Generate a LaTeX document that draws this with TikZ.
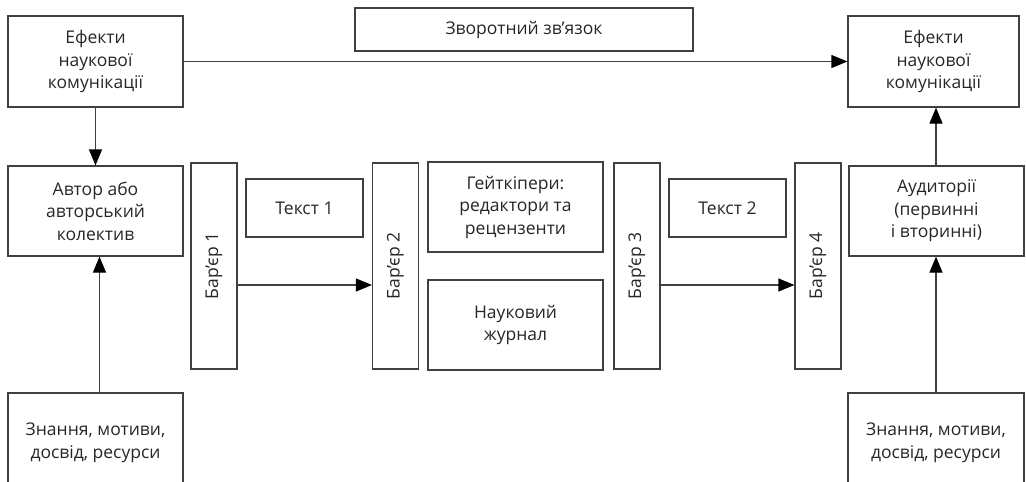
\documentclass[tikz,border=0pt]{standalone}
\usepackage{fontspec}
\setmainfont{Open Sans}
\usetikzlibrary{arrows.meta}

\begin{document}
\begin{tikzpicture}[x=1pt,y=-1pt,
    every node/.style={font=\fontsize{17.5}{22.5}\selectfont, text=black!85},
    box/.style={draw=black!75, line width=1.2pt, align=center, inner sep=0pt},
    barrier/.style={box, minimum width=46pt, minimum height=206pt},
    link/.style={draw=black!75, line width=1.2pt, -{Triangle[length=16pt,width=13pt,color=black]}},
  ]
  \clip (0,0) rectangle (1026,482);
  % top row
  \draw (95.5,61.5) node[box, minimum width=175pt, minimum height=91pt](eff1) {Ефекти\\наукової\\комунікації};
  \draw (524,29.5) node[box, minimum width=338pt, minimum height=43pt](fb) {Зворотний зв’язок};
  \draw (933.5,61.5) node[box, minimum width=171pt, minimum height=91pt](eff2) {Ефекти\\наукової\\комунікації};
  % middle row
  \draw (95.5,211) node[box, minimum width=175pt, minimum height=90pt](author) {Автор або\\авторський\\колектив};
  \draw (214,266) node[barrier, label={[rotate=90]center:Бар’єр 1}](bar1) {};
  \draw (304.5,208) node[box, minimum width=117pt, minimum height=58pt](text1) {Текст 1};
  \draw (395.5,266) node[barrier, label={[rotate=90]center:Бар’єр 2}](bar2) {};
  \draw (515.5,207) node[box, minimum width=175pt, minimum height=90pt](gate) {Гейткіпери:\\редактори та\\рецензенти};
  \draw (515.5,325) node[box, minimum width=175pt, minimum height=90pt](journal) {Науковий\\журнал};
  \draw (637,266) node[barrier, label={[rotate=90]center:Бар’єр 3}](bar3) {};
  \draw (727.5,208) node[box, minimum width=117pt, minimum height=58pt](text2) {Текст 2};
  \draw (818,266) node[barrier, label={[rotate=90]center:Бар’єр 4}](bar4) {};
  \draw (936.5,211) node[box, minimum width=175pt, minimum height=90pt](aud) {Аудиторії\\(первинні\\і вторинні)};
  % bottom row (cut by the page edge)
  \draw (95.5,443) node[box, minimum width=175pt, minimum height=100pt](res1) {Знання, мотиви,\\досвід, ресурси};
  \draw (936,443) node[box, minimum width=176pt, minimum height=100pt](res2) {Знання, мотиви,\\досвід, ресурси};
  \coordinate (flow) at (0,285);

  \draw[link] (eff1.east) -- (eff1.east -| eff2.west);
  \draw[link] (eff1.south) -- (author.north);
  \draw[link] ([xshift=4pt]res1.north) -- ([xshift=4pt]res1.north |- author.south);
  \draw[link] (bar1.east |- flow) -- (bar2.west |- flow);
  \draw[link] (bar3.east |- flow) -- (bar4.west |- flow);
  \draw[link] (res2.north) -- (res2.north |- aud.south);
  \draw[link] (aud.north -| res2.north) -- (res2.north |- eff2.south);
\end{tikzpicture}
\end{document}
